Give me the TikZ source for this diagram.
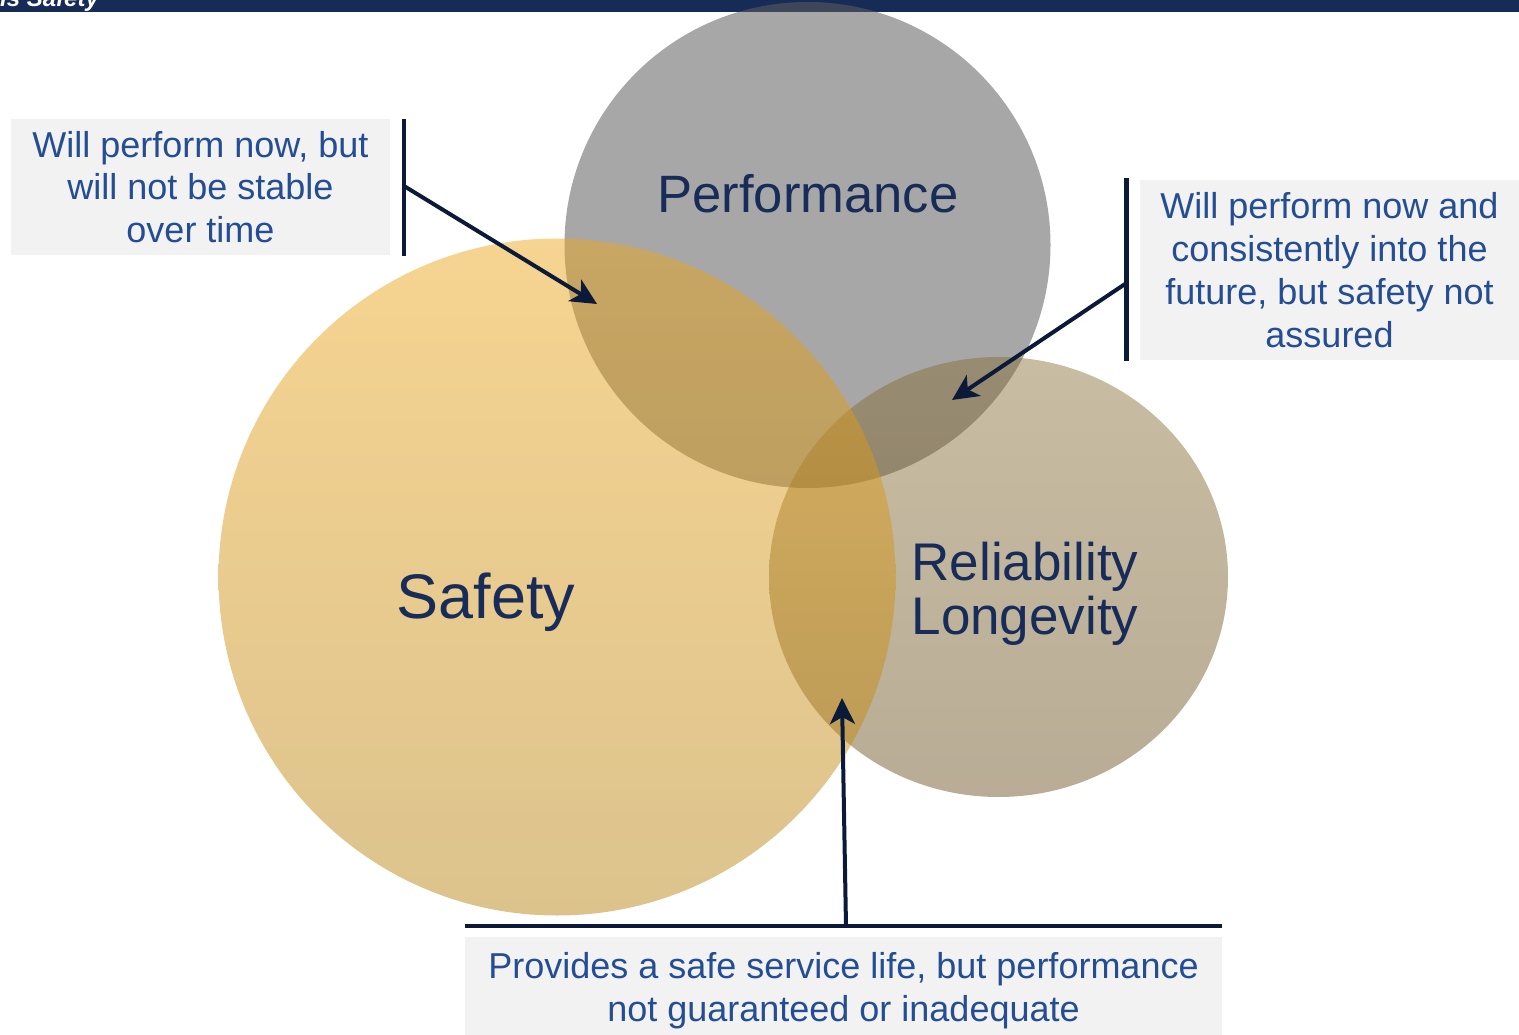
\documentclass[tikz,border=0pt]{standalone}
\usepackage{fontspec}
\setmainfont{Liberation Sans}
\usetikzlibrary{arrows.meta,shapes.geometric}
\definecolor{barnavy}{RGB}{22,43,85}
\definecolor{labelnavy}{RGB}{23,44,88}
\definecolor{callblue}{RGB}{36,77,146}
\definecolor{linenavy}{RGB}{12,26,58}
\definecolor{boxgray}{RGB}{242,242,242}
\definecolor{perfgray}{RGB}{95,95,95}
\definecolor{safetop}{RGB}{237,165,25}
\definecolor{safebot}{RGB}{181,129,15}
\definecolor{reltop}{RGB}{133,107,49}
\definecolor{relbot}{RGB}{100,71,22}
\begin{document}
\begin{tikzpicture}[x=1pt,y=-1pt,
  callout/.style={fill=boxgray, text=callblue, align=center, inner sep=0pt,
    font=\fontsize{36}{42.8}\selectfont},
  bigword/.style={text=labelnavy, inner sep=0pt},
  bracket/.style={draw=linenavy, line width=4.5pt},
  pointer/.style={draw=linenavy, line width=4pt,
    -{Stealth[length=26pt,width=25pt,inset=7pt]}},
]
\useasboundingbox (0,0) rectangle (1519,1035);

% header band
\fill[barnavy] (0,0) rectangle (1519,12);
\node[anchor=base west, inner sep=0pt, text=white,
  font=\fontsize{24}{28}\selectfont\bfseries\itshape] (hdr) at (0,7) {is Safety};

% the three translucent circles
\node[circle, minimum size=486pt, inner sep=0pt, fill=perfgray,
  fill opacity=0.55] (perf) at (807.5,245) {};
\node[ellipse, minimum width=459pt, minimum height=440pt, inner sep=0pt,
  top color=reltop, bottom color=relbot, fill opacity=0.45] (rel) at (998.5,577) {};
\node[circle, minimum size=677pt, inner sep=0pt,
  top color=safetop, bottom color=safebot, fill opacity=0.48] (safe) at (557,577) {};

% circle labels
\node[bigword, font=\fontsize{52.6}{60}\selectfont, anchor=base] (perflabel) at (808,213) {Performance};
\node[bigword, font=\fontsize{63}{70}\selectfont, anchor=base] (safelabel) at (486,618) {Safety};
\node[bigword, font=\fontsize{53}{54}\selectfont, align=left] (rellabel) at (1025,594) {Reliability\\Longevity};

% callout boxes
\node[callout, minimum width=379pt, minimum height=136pt] (c1) at (200.5,187)
  {Will perform now, but\\will not be stable\\over time};
\node[callout, minimum width=380pt, minimum height=180pt] (c2) at (1329.5,270)
  {Will perform now and\\consistently into the\\future, but safety not\\assured};
\node[callout, minimum width=757pt, minimum height=108pt] (c3) at (843.5,991)
  {Provides a safe service life, but performance\\not guaranteed or inadequate};

% brackets beside the callouts
\coordinate (b1a) at (404,119);
\coordinate (b1b) at (404,256);
\coordinate (b2a) at (1126.5,178);
\coordinate (b2b) at (1126.5,361);
\coordinate (b3a) at (465,926);
\coordinate (b3b) at (1222,926);
\draw[bracket] (b1a) -- (b1b);
\draw[bracket] (b2a) -- (b2b);
\draw[bracket] (b3a) -- (b3b);

% pointers into the overlaps
\coordinate (s1) at (404,186);
\coordinate (t1) at (597,304);
\coordinate (s2) at (1126.5,283);
\coordinate (t2) at (952,400);
\coordinate (s3) at (846,926);
\coordinate (t3) at (842,698);
\draw[pointer] (s1) -- (t1);
\draw[pointer] (s2) -- (t2);
\draw[pointer] (s3) -- (t3);
\end{tikzpicture}
\end{document}
